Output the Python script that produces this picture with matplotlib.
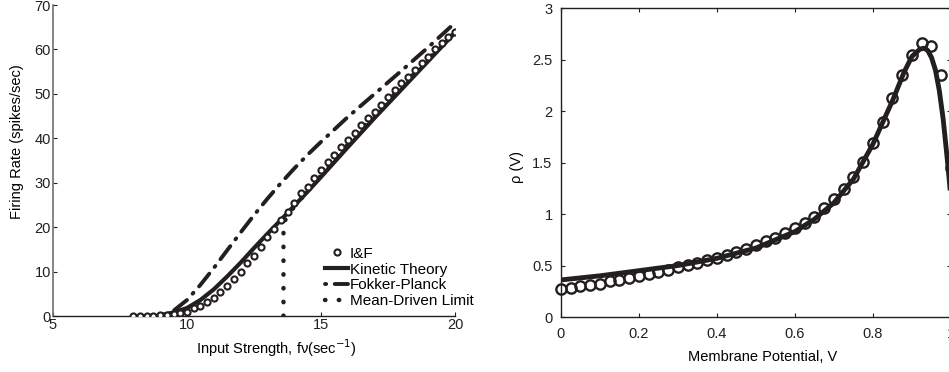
import matplotlib
matplotlib.use('Agg')
import matplotlib.pyplot as plt

plt.rcParams['font.family'] = ['Liberation Sans', 'DejaVu Sans']
plt.rcParams['font.size'] = 10.5

INK = '#231f20'

# left panel: firing rate vs input strength
if_x = [8.0, 8.25, 8.5, 8.75, 9.0, 9.25, 9.5, 9.75, 10.0, 10.25, 10.5, 10.75,
        11.0, 11.25, 11.5, 11.75, 12.0, 12.25, 12.5, 12.75, 13.0, 13.25, 13.5,
        13.75, 14.0, 14.25, 14.5, 14.75, 15.0, 15.25, 15.5, 15.75, 16.0, 16.25,
        16.5, 16.75, 17.0, 17.25, 17.5, 17.75, 18.0, 18.25, 18.5, 18.75, 19.0,
        19.25, 19.5, 19.75, 20.0]
if_rate = [0.0, 0.0, 0.0, 0.1, 0.3, 0.3, 0.4, 0.6, 1.0, 1.7, 2.3, 3.2,
           4.1, 5.3, 6.8, 8.3, 10.0, 11.9, 13.6, 15.6, 17.7, 19.5, 21.6,
           23.5, 25.5, 27.6, 29.1, 31.0, 32.9, 34.7, 36.2, 38.1, 39.6, 41.3,
           43.0, 44.5, 46.0, 47.5, 49.4, 50.9, 52.4, 53.9, 55.4, 56.9, 58.4,
           60.0, 61.4, 62.7, 64.0]

kt_x = [9.0, 9.5, 10.0, 10.5, 11.0, 11.5, 12.0, 12.5, 13.0, 13.5, 14.0, 14.5,
        15.0, 16.0, 17.0, 18.0, 19.0, 20.0]
kt_rate = [0.2, 0.8, 1.8, 3.6, 6.0, 8.9, 12.0, 15.3, 18.5, 21.6, 24.8, 28.0,
           31.3, 38.0, 44.6, 51.0, 57.4, 63.8]

fp_x = [9.2, 9.5, 10.0, 10.5, 11.0, 11.5, 12.0, 12.5, 13.0, 13.5, 14.0, 14.5,
        15.0, 15.5, 16.0, 17.0, 18.0, 19.0, 20.0]
fp_rate = [0.3, 1.2, 3.6, 7.0, 10.8, 14.8, 18.8, 22.7, 26.4, 29.9, 33.2, 36.3,
           39.2, 42.0, 44.8, 50.0, 55.2, 60.5, 66.0]

md_x = [13.6, 13.6, 14.0, 15.0, 16.0, 17.0, 18.0, 19.0, 20.0]
md_rate = [0.0, 21.0, 24.6, 31.6, 38.6, 45.2, 51.6, 57.8, 64.0]

# right panel: membrane potential density
v_if = [0.0, 0.025, 0.05, 0.075, 0.1, 0.125, 0.15, 0.175, 0.2, 0.225, 0.25,
        0.275, 0.3, 0.325, 0.35, 0.375, 0.4, 0.425, 0.45, 0.475, 0.5, 0.525,
        0.55, 0.575, 0.6, 0.625, 0.65, 0.675, 0.7, 0.725, 0.75, 0.775, 0.8,
        0.825, 0.85, 0.875, 0.9, 0.925, 0.95, 0.975, 1.0]
rho_if = [0.276, 0.285, 0.30, 0.315, 0.325, 0.347, 0.363, 0.38, 0.396, 0.415,
          0.438, 0.46, 0.483, 0.503, 0.525, 0.551, 0.574, 0.60, 0.632, 0.665,
          0.697, 0.74, 0.772, 0.817, 0.86, 0.915, 0.973, 1.054, 1.142, 1.239,
          1.362, 1.508, 1.687, 1.897, 2.125, 2.352, 2.546, 2.66, 2.627, 2.352,
          1.443]

v_kt = [0.0, 0.1, 0.2, 0.3, 0.4, 0.5, 0.6, 0.65, 0.7, 0.75, 0.8, 0.85, 0.88,
        0.9, 0.92, 0.93, 0.94, 0.95, 0.96, 0.97, 0.98, 0.99, 1.0]
rho_kt = [0.36, 0.40, 0.45, 0.50, 0.57, 0.67, 0.83, 0.95, 1.11, 1.34, 1.68,
          2.10, 2.38, 2.53, 2.60, 2.61, 2.59, 2.52, 2.40, 2.20, 1.92, 1.55, 1.15]

fig = plt.figure(figsize=(9.49, 3.72), dpi=100)

# ---- left panel ----
ax1 = fig.add_axes([0.0558, 0.1505, 0.4237, 0.836])
ax1.plot(if_x, if_rate, 'o', ms=4.4, mfc='white', mec=INK, mew=1.5,
         label='I&F', zorder=4)
ax1.plot(kt_x, kt_rate, '-', color=INK, lw=3.0, label='Kinetic Theory', zorder=3)
ax1.plot(fp_x, fp_rate, color=INK, lw=2.8, dashes=(0.3, 2.2, 4.2, 2.2),
         dash_capstyle='round', label='Fokker-Planck', zorder=2)
ax1.plot(md_x, md_rate, color=INK, lw=3.2, dashes=(0.1, 3.0),
         dash_capstyle='round', label='Mean-Driven Limit', zorder=2)
ax1.set_xlim(5, 20)
ax1.set_ylim(0, 70)
ax1.set_xticks([5, 10, 15, 20])
ax1.set_yticks(range(0, 71, 10))
ax1.spines['top'].set_visible(False)
ax1.spines['right'].set_visible(False)
ax1.spines['left'].set_color('#707070')
ax1.spines['bottom'].set_color(INK)
ax1.spines['left'].set_linewidth(1.2)
ax1.spines['bottom'].set_linewidth(1.0)
ax1.tick_params(direction='in', length=3, width=0.8, colors=INK, pad=1.5)
ax1.set_xlabel('Input Strength, f\u03bd(sec$^{-1}$)', va='center')
ax1.xaxis.set_label_coords(0.555, -0.103)
ax1.set_ylabel('Firing Rate (spikes/sec)', va='center')
ax1.yaxis.set_label_coords(-0.0896, 0.56)
ax1.legend(loc='lower left', bbox_to_anchor=(0.677, 0.025), frameon=False,
           handlelength=1.5, handletextpad=0.1, labelspacing=0.12,
           borderaxespad=0.0, borderpad=0.0, fontsize=11)

# ---- right panel (axis box runs just past the figure edge) ----
ax2 = fig.add_axes([0.5911, 0.1478, 0.411, 0.8306])
ax2.plot(v_kt, rho_kt, '-', color=INK, lw=3.5, zorder=2)
ax2.plot(v_if, rho_if, 'o', ms=7.4, mfc='none', mec=INK, mew=1.7, zorder=3,
         clip_on=False)
ax2.set_xlim(0, 1)
ax2.set_ylim(0, 3)
ax2.set_xticks([0, 0.2, 0.4, 0.6, 0.8, 1.0])
ax2.set_xticklabels(['0', '0.2', '0.4', '0.6', '0.8', '1'])
ax2.set_yticks([0, 0.5, 1, 1.5, 2, 2.5, 3])
ax2.set_yticklabels(['0', '0.5', '1', '1.5', '2', '2.5', '3'])
for s in ax2.spines.values():
    s.set_color(INK)
    s.set_linewidth(1.0)
ax2.tick_params(direction='in', length=3, width=0.8, colors=INK, top=True,
                right=True)
ax2.tick_params(axis='x', pad=7)
ax2.tick_params(axis='y', pad=6)
ax2.set_xlabel('Membrane Potential, V', va='center')
ax2.xaxis.set_label_coords(0.518, -0.129)
ax2.set_ylabel('\u03c1 (V)', va='center')
ax2.yaxis.set_label_coords(-0.113, 0.485)

fig.savefig('out.png', dpi=100)
